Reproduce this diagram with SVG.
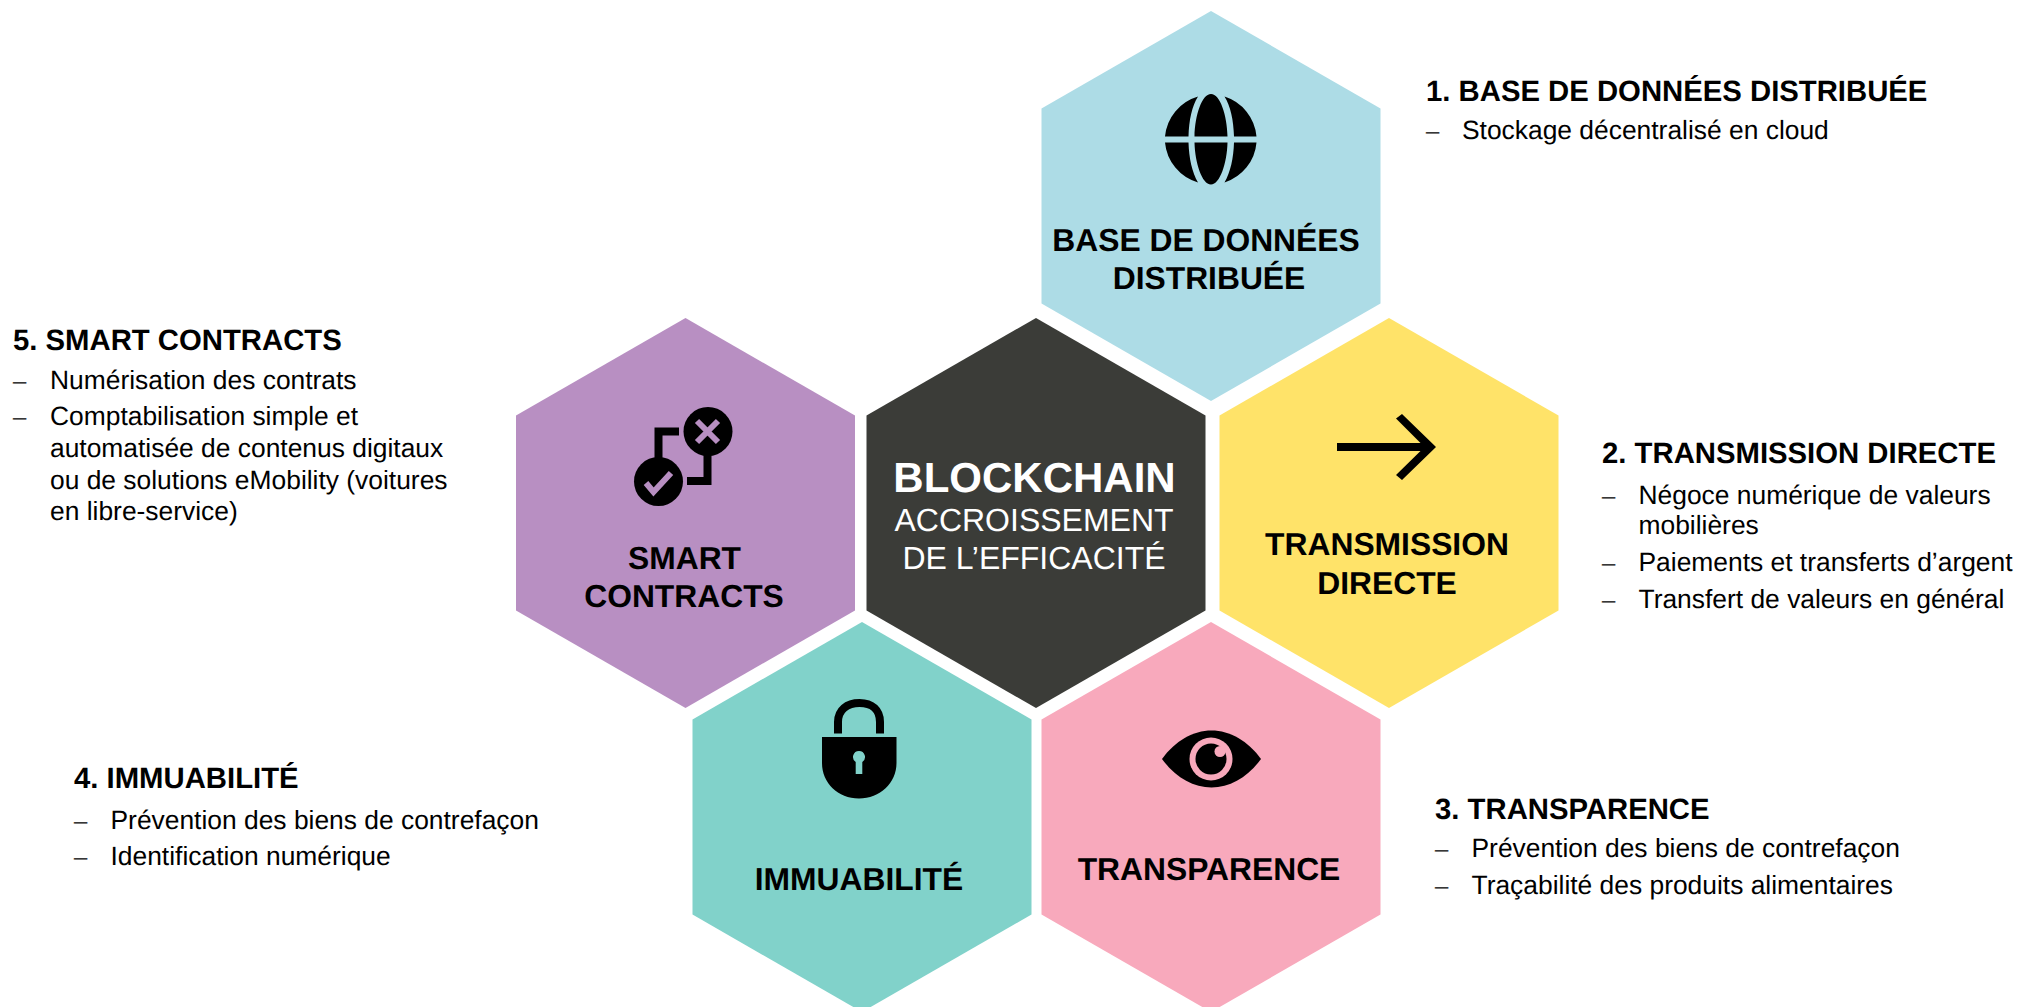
<svg xmlns="http://www.w3.org/2000/svg" width="2018" height="1007" viewBox="0 0 2018 1007">
<style>
text{font-family:"Liberation Sans",Arial,sans-serif;fill:#000;text-rendering:geometricPrecision}
.h{font-size:29.3px;font-weight:700}
.b{font-size:26.4px}
.d{font-size:26.4px;font-family:"Liberation Serif","Times New Roman",serif}
.t{font-size:31.8px;font-weight:700;text-anchor:middle}
.w{fill:#fff;text-anchor:middle}
.i{fill:#000}
</style>
<defs><polygon id="hex" points="0,-195 169.5,-97.5 169.5,97.5 0,195 -169.5,97.5 -169.5,-97.5"/></defs>
<rect width="2018" height="1007" fill="#fff"/>
<g id="connectors"/>
<g id="node-base">
<use href="#hex" x="1211" y="206" fill="#addce6"/>
<path class="i" fill-rule="evenodd" d="M1198 96.500A46 46 0 0 0 1165 136.500H1188.500C1189 120 1192 106 1198 96.500ZM1224.500 96.500A46 46 0 0 1 1256.500 136.500H1234C1233.500 120 1230.500 106 1224.500 96.500ZM1211 94C1202 94 1195 115 1194.500 136.500H1227.500C1227 115 1220 94 1211 94ZM1165 142.500A46 46 0 0 0 1198 182.500C1192 172 1189 158 1188.500 142.500ZM1256.500 142.500A46 46 0 0 1 1224.500 182.500C1230.500 172 1233.500 158 1234 142.500ZM1194.500 142.500C1195 163 1202 184.500 1211 184.500C1220 184.500 1227 163 1227.500 142.500Z"/>
<text class="t" x="1206" y="251">BASE DE DONNÉES</text>
<text class="t" x="1209" y="289">DISTRIBUÉE</text>
</g>
<g id="node-transmission">
<use href="#hex" x="1389" y="513" fill="#ffe369"/>
<path class="i" d="M1337 443H1420.500L1396 418.500L1402 414L1436 447L1402 480L1396 475L1420.500 451H1337Z"/>
<text class="t" x="1387" y="554.500">TRANSMISSION</text>
<text class="t" x="1387" y="593.500">DIRECTE</text>
</g>
<g id="node-transparence">
<use href="#hex" x="1211" y="817" fill="#f8a9bc"/>
<path class="i" d="M1162 759C1175 741 1193 730.500 1211.500 730.500C1230 730.500 1248 741 1261 759C1248 777 1230 787.500 1211.500 787.500C1193 787.500 1175 777 1162 759Z"/>
<circle cx="1211" cy="759" r="21.500" fill="#f8a9bc"/>
<circle class="i" cx="1211" cy="759" r="15.500"/>
<circle cx="1220" cy="751.500" r="5.500" fill="#f8a9bc"/>
<text class="t" x="1209" y="879.500">TRANSPARENCE</text>
</g>
<g id="node-immuabilite">
<use href="#hex" x="862" y="817" fill="#81d2ca"/>
<path class="i" fill-rule="evenodd" d="M822 737H896.500V763C896.500 783 880 798.500 859 798.500C838 798.500 822 783 822 763ZM859 751A6 6 0 0 0 855.700 762V774H862.300V762A6 6 0 0 0 859 751Z"/>
<path d="M838 733.500V722C838 710 847 703 859.500 703C872 703 880 710 880 722V733.500" fill="none" stroke="#000" stroke-width="8"/>
<text class="t" x="859" y="889.500">IMMUABILITÉ</text>
</g>
<g id="node-smart">
<use href="#hex" x="685.500" y="513" fill="#b88fc2"/>
<circle class="i" cx="658.500" cy="481.500" r="24.500"/>
<circle class="i" cx="708" cy="431.500" r="24.500"/>
<path d="M658.500 460V431.500H679M707.500 452V481H687" fill="none" stroke="#000" stroke-width="8"/>
<path d="M646 483L653.500 492L671 473" fill="none" stroke="#b88fc2" stroke-width="6"/>
<path d="M697 421L718 442M718 421L697 442" stroke="#b88fc2" stroke-width="6" fill="none"/>
<text class="t" x="684.500" y="568.500">SMART</text>
<text class="t" x="684" y="606.500">CONTRACTS</text>
</g>
<g id="node-blockchain">
<use href="#hex" x="1036" y="513" fill="#3b3c38"/>
<text class="t w" x="1034.500" y="491.500" style="font-size:42px;fill:#fff">BLOCKCHAIN</text>
<text class="w" x="1034" y="531" style="font-size:32px">ACCROISSEMENT</text>
<text class="w" x="1034" y="569" style="font-size:32px">DE L’EFFICACITÉ</text>
</g>
<g id="text-1">
<text class="h" x="1426" y="100.500">1. BASE DE DONNÉES DISTRIBUÉE</text>
<text class="d" x="1426" y="138.500">–</text><text class="b" x="1462" y="138.500">Stockage décentralisé en cloud</text>
</g>
<g id="text-2">
<text class="h" x="1602" y="462.500">2. TRANSMISSION DIRECTE</text>
<text class="d" x="1602" y="503.500">–</text><text class="b" x="1638.500" y="503.500">Négoce numérique de valeurs</text>
<text class="b" x="1638.500" y="534">mobilières</text>
<text class="d" x="1602" y="570.500">–</text><text class="b" x="1638.500" y="570.500">Paiements et transferts d’argent</text>
<text class="d" x="1602" y="607.500">–</text><text class="b" x="1638.500" y="607.500">Transfert de valeurs en général</text>
</g>
<g id="text-3">
<text class="h" x="1435" y="818.500">3. TRANSPARENCE</text>
<text class="d" x="1435" y="856.500">–</text><text class="b" x="1471.500" y="856.500">Prévention des biens de contrefaçon</text>
<text class="d" x="1435" y="893.500">–</text><text class="b" x="1471.500" y="893.500">Traçabilité des produits alimentaires</text>
</g>
<g id="text-4">
<text class="h" x="74" y="788">4. IMMUABILITÉ</text>
<text class="d" x="74" y="828.500">–</text><text class="b" x="110.500" y="828.500">Prévention des biens de contrefaçon</text>
<text class="d" x="74" y="864.500">–</text><text class="b" x="110.500" y="864.500">Identification numérique</text>
</g>
<g id="text-5">
<text class="h" x="13" y="349.500">5. SMART CONTRACTS</text>
<text class="d" x="13" y="388.500">–</text><text class="b" x="50" y="388.500">Numérisation des contrats</text>
<text class="d" x="13" y="424.500">–</text><text class="b" x="50" y="424.500">Comptabilisation simple et</text>
<text class="b" x="50" y="457">automatisée de contenus digitaux</text>
<text class="b" x="50" y="488.500">ou de solutions eMobility (voitures</text>
<text class="b" x="50" y="520">en libre-service)</text>
</g>
</svg>
